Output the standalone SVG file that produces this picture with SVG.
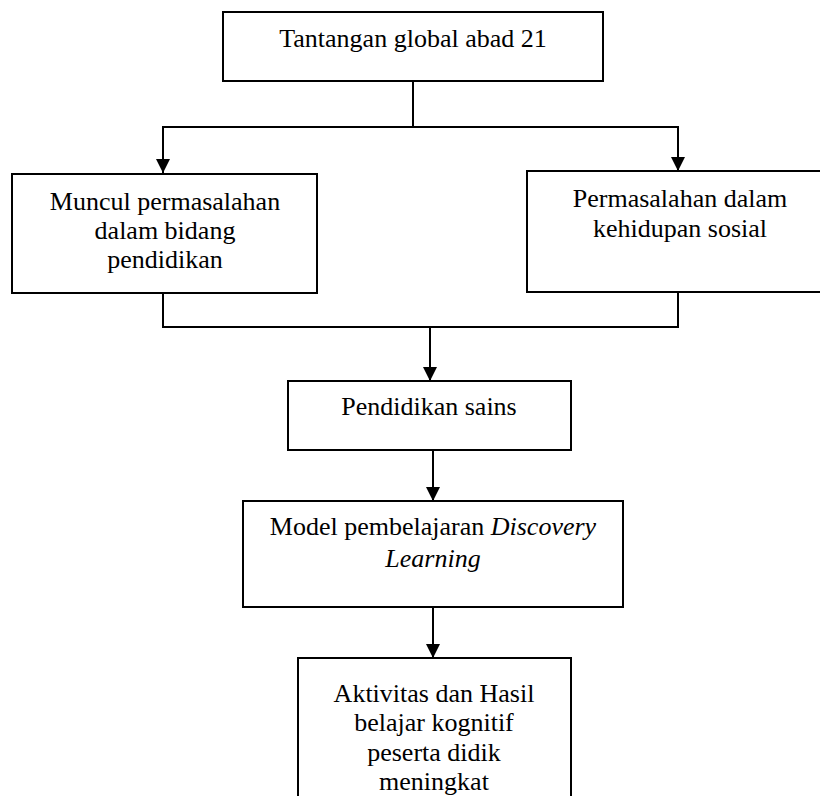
<svg xmlns="http://www.w3.org/2000/svg" width="820" height="796" viewBox="0 0 820 796">
<defs>
<style>
.box{fill:#fff;stroke:#000;stroke-width:2}
.ln{fill:none;stroke:#000;stroke-width:2}
text{font-family:"Liberation Serif","Times New Roman",serif;font-size:26px;fill:#000;text-anchor:middle}
.it{font-style:italic}
</style>
<marker id="ah" markerUnits="userSpaceOnUse" markerWidth="14" markerHeight="14" viewBox="0 0 14 14" refX="14" refY="7" orient="auto">
<path d="M0,0 L14,7 L0,14 z" fill="#000"/>
</marker>
</defs>
<rect width="820" height="796" fill="#fff"/>
<g id="connectors">
<line class="ln" x1="413" y1="81" x2="413" y2="127"/>
<polyline class="ln" points="163,173 163,127 678,127 678,171" marker-end="url(#ah)"/>
<line class="ln" x1="163" y1="127" x2="163" y2="173" marker-end="url(#ah)"/>
<polyline class="ln" points="163,293 163,327 678,327 678,292"/>
<line class="ln" x1="430" y1="327" x2="430" y2="381" marker-end="url(#ah)"/>
<line class="ln" x1="433" y1="450" x2="433" y2="501" marker-end="url(#ah)"/>
<line class="ln" x1="433" y1="607" x2="433" y2="658" marker-end="url(#ah)"/>
</g>
<g id="n1">
<rect class="box" x="223" y="12" width="380" height="69"/>
<text x="413" y="47">Tantangan global abad 21</text>
</g>
<g id="n2">
<rect class="box" x="12" y="174" width="305" height="119"/>
<text x="165" y="210">Muncul permasalahan</text>
<text x="165" y="239">dalam bidang</text>
<text x="165" y="268">pendidikan</text>
</g>
<g id="n3">
<rect class="box" x="527" y="171" width="310" height="121"/>
<text x="680" y="207">Permasalahan dalam</text>
<text x="680" y="237">kehidupan sosial</text>
</g>
<g id="n4">
<rect class="box" x="288" y="381" width="283" height="69"/>
<text x="429" y="415">Pendidikan sains</text>
</g>
<g id="n5">
<rect class="box" x="243" y="501" width="380" height="106"/>
<text x="433" y="535">Model pembelajaran <tspan class="it">Discovery</tspan></text>
<text x="433" y="567" class="it">Learning</text>
</g>
<g id="n6">
<rect class="box" x="298" y="658" width="273" height="160"/>
<text x="434" y="702">Aktivitas dan Hasil</text>
<text x="434" y="731">belajar kognitif</text>
<text x="434" y="761">peserta didik</text>
<text x="434" y="790">meningkat</text>
</g>
</svg>
